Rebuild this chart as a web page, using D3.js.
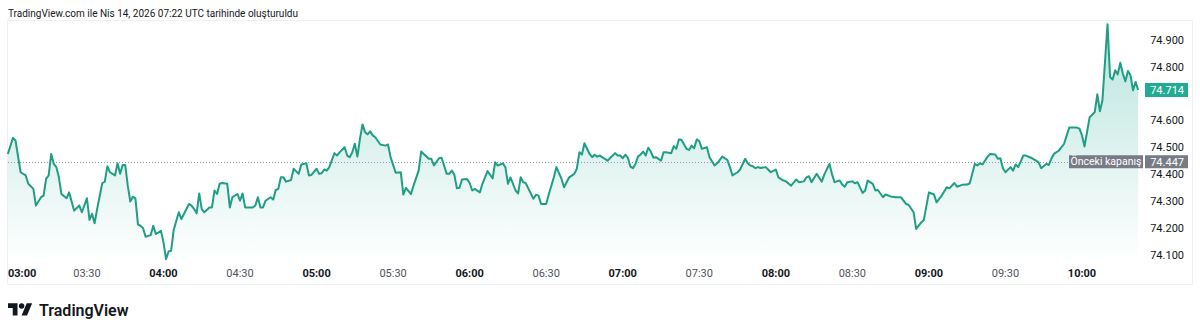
<!DOCTYPE html>
<html>
<head>
<meta charset="utf-8">
<script src="https://cdn.jsdelivr.net/npm/d3@7"></script>
<style>
  html, body { margin: 0; padding: 0; background: #fff; }
  svg { display: block; font-family: Roboto, "Noto Sans", sans-serif; }
</style>
</head>
<body>
<div id="chart"></div>
<script>
// ---------- Data (1-min closes, minutes after 03:00 local) ----------
const sessionStart = "2026-04-14T03:00:00Z";
const minutes = [
  -1, 1, 2, 4, 6, 7, 9, 10, 12, 13, 14, 15, 16, 17, 18, 19, 20, 22, 23, 25,
  27, 28, 30, 31, 32, 33, 34, 36, 37, 38, 39, 41, 42, 43, 44, 45, 46, 47, 48, 49,
  50, 51, 52, 53, 55, 56, 57, 59, 60, 61, 62, 63, 64, 66, 67, 70, 71, 72, 73, 74,
  75, 76, 78, 79, 80, 81, 82, 83, 85, 86, 87, 89, 90, 91, 92, 95, 96, 97, 98, 99,
  100, 102, 103, 104, 105, 106, 107, 108, 110, 111, 113, 114, 116, 117, 118, 120, 121, 122, 123, 124,
  125, 127, 128, 129, 131, 132, 133, 134, 135, 136, 137, 138, 139, 140, 141, 142, 143, 145, 147, 148,
  149, 151, 153, 154, 155, 157, 158, 160, 161, 162, 164, 165, 166, 168, 169, 171, 172, 173, 174, 175,
  176, 177, 179, 180, 181, 182, 184, 185, 187, 189, 190, 191, 193, 194, 195, 196, 198, 199, 200, 201,
  202, 205, 206, 207, 208, 210, 211, 213, 214, 216, 217, 219, 221, 222, 223, 224, 225, 227, 228, 229,
  230, 231, 233, 234, 235, 237, 238, 239, 240, 241, 242, 243, 244, 245, 246, 247, 248, 249, 250, 251,
  252, 253, 255, 256, 257, 259, 260, 261, 262, 263, 265, 266, 267, 268, 269, 270, 271, 273, 274, 276,
  277, 279, 281, 282, 283, 285, 286, 288, 289, 290, 291, 292, 293, 294, 296, 297, 298, 300, 301, 303,
  304, 306, 308, 309, 311, 312, 313, 314, 316, 318, 319, 321, 322, 323, 325, 326, 327, 328, 330, 331,
  332, 334, 335, 336, 338, 339, 340, 342, 343, 345, 347, 349, 351, 352, 354, 355, 357, 358, 360, 361,
  362, 363, 365, 367, 368, 370, 371, 373, 375, 376, 378, 379, 380, 381, 383, 384, 386, 387, 388, 389,
  390, 392, 393, 394, 395, 397, 398, 400, 402, 403, 404, 406, 407, 408, 409, 411, 413, 414, 415, 418,
  419, 420, 421, 423, 424, 425, 426, 427, 428, 430, 431, 432, 433, 434, 435, 436, 437, 438, 439, 440,
  441, 442
];
const prices = [
  74.476, 74.536, 74.526, 74.408, 74.396, 74.365, 74.346, 74.284, 74.315, 74.321, 74.383, 74.396, 74.476, 74.439, 74.427, 74.389, 74.327, 74.311, 74.333, 74.265,
  74.284, 74.259, 74.311, 74.231, 74.253, 74.218, 74.271, 74.367, 74.373, 74.430, 74.408, 74.396, 74.441, 74.402, 74.435, 74.435, 74.358, 74.299, 74.317, 74.311,
  74.213, 74.209, 74.200, 74.168, 74.174, 74.209, 74.178, 74.190, 74.147, 74.085, 74.113, 74.116, 74.193, 74.259, 74.234, 74.290, 74.284, 74.271, 74.255, 74.329,
  74.271, 74.259, 74.277, 74.277, 74.340, 74.327, 74.365, 74.368, 74.365, 74.277, 74.315, 74.327, 74.302, 74.329, 74.277, 74.277, 74.284, 74.315, 74.277, 74.277,
  74.302, 74.315, 74.306, 74.342, 74.346, 74.389, 74.389, 74.373, 74.379, 74.421, 74.402, 74.437, 74.441, 74.396, 74.398, 74.421, 74.402, 74.404, 74.418, 74.414,
  74.427, 74.479, 74.470, 74.482, 74.501, 74.470, 74.464, 74.482, 74.514, 74.466, 74.532, 74.586, 74.557, 74.549, 74.560, 74.545, 74.538, 74.511, 74.507, 74.511,
  74.464, 74.406, 74.408, 74.325, 74.350, 74.327, 74.358, 74.414, 74.485, 74.476, 74.458, 74.458, 74.433, 74.460, 74.462, 74.402, 74.402, 74.414, 74.399, 74.348,
  74.350, 74.381, 74.383, 74.368, 74.340, 74.346, 74.333, 74.365, 74.412, 74.385, 74.445, 74.433, 74.441, 74.427, 74.365, 74.389, 74.340, 74.329, 74.389, 74.371,
  74.367, 74.309, 74.324, 74.321, 74.290, 74.290, 74.325, 74.389, 74.427, 74.383, 74.352, 74.389, 74.402, 74.421, 74.482, 74.474, 74.516, 74.476, 74.464, 74.473,
  74.466, 74.470, 74.458, 74.451, 74.460, 74.479, 74.470, 74.470, 74.460, 74.473, 74.462, 74.429, 74.423, 74.439, 74.466, 74.474, 74.485, 74.470, 74.499, 74.485,
  74.462, 74.464, 74.451, 74.482, 74.482, 74.479, 74.505, 74.495, 74.530, 74.529, 74.495, 74.491, 74.507, 74.497, 74.530, 74.524, 74.495, 74.501, 74.464, 74.433,
  74.441, 74.466, 74.454, 74.427, 74.396, 74.408, 74.418, 74.458, 74.441, 74.433, 74.430, 74.423, 74.427, 74.424, 74.427, 74.418, 74.408, 74.418, 74.389, 74.377,
  74.374, 74.358, 74.381, 74.371, 74.374, 74.389, 74.393, 74.371, 74.402, 74.373, 74.399, 74.439, 74.402, 74.371, 74.377, 74.362, 74.354, 74.371, 74.374, 74.367,
  74.371, 74.331, 74.340, 74.377, 74.365, 74.340, 74.342, 74.315, 74.325, 74.318, 74.315, 74.315, 74.290, 74.287, 74.259, 74.197, 74.221, 74.230, 74.333, 74.329,
  74.325, 74.296, 74.321, 74.352, 74.348, 74.368, 74.354, 74.361, 74.362, 74.367, 74.439, 74.433, 74.441, 74.437, 74.466, 74.476, 74.474, 74.458, 74.460, 74.423,
  74.408, 74.427, 74.414, 74.437, 74.427, 74.470, 74.470, 74.462, 74.451, 74.445, 74.423, 74.439, 74.435, 74.458, 74.476, 74.489, 74.514, 74.545, 74.574, 74.574,
  74.570, 74.545, 74.504, 74.613, 74.622, 74.632, 74.698, 74.635, 74.675, 74.959, 74.762, 74.753, 74.787, 74.772, 74.815, 74.775, 74.746, 74.785, 74.769, 74.713,
  74.744, 74.714
];
const previousClose = 74.447;
const priceTicks = [74.1, 74.2, 74.3, 74.4, 74.5, 74.6, 74.7, 74.8, 74.9];
const headerText = "TradingView.com ile Nis 14, 2026 07:22 UTC tarihinde oluşturuldu";
const prevCloseLabel = "Önceki kapanış";
const brandText = "TradingView";

// ---------- Layout ----------
const W = 1200, H = 335;
const pane = { left: 7.5, top: 20.5, right: 1192.5, bottom: 284.5 };
const lineColor = "#1f9e85";
const upColor = "#22ab94";
const textColor = "#131722";

const base = new Date(sessionStart).getTime();
const data = minutes.map((m, i) => ({ t: new Date(base + m * 60000), p: prices[i] }));

const x = d3.scaleUtc()
  .domain([new Date(base), new Date(base + 420 * 60000)])
  .range([10.4, 1082]);

const y = d3.scaleLinear()
  .domain([74.1, 74.9])
  .range([255, 40]);

const svg = d3.select("#chart").append("svg")
  .attr("width", W)
  .attr("height", H);

// header
svg.append("text")
  .attr("x", 8)
  .attr("y", 17)
  .attr("fill", textColor)
  .style("font-size", "10px")
  .text(headerText);

// pane frame
svg.append("rect")
  .attr("x", pane.left).attr("y", pane.top)
  .attr("width", pane.right - pane.left)
  .attr("height", pane.bottom - pane.top)
  .attr("fill", "none")
  .attr("stroke", "#eef0f4");

// gradient for area
const defs = svg.append("defs");
const grad = defs.append("linearGradient")
  .attr("id", "areaGrad")
  .attr("gradientUnits", "userSpaceOnUse")
  .attr("x1", 0).attr("y1", 24).attr("x2", 0).attr("y2", 262);
grad.append("stop").attr("offset", "0%").attr("stop-color", upColor).attr("stop-opacity", 0.32);
grad.append("stop").attr("offset", "100%").attr("stop-color", upColor).attr("stop-opacity", 0.0);

const plotBottom = 262;

const area = d3.area()
  .x(d => x(d.t))
  .y0(plotBottom)
  .y1(d => y(d.p));

const line = d3.line()
  .x(d => x(d.t))
  .y(d => y(d.p));

svg.append("path")
  .datum(data)
  .attr("d", area)
  .attr("fill", "url(#areaGrad)");

// previous close dotted line
const yPrev = Math.round(y(previousClose)) + 0.5;
svg.append("line")
  .attr("x1", 8).attr("x2", 1068)
  .attr("y1", yPrev).attr("y2", yPrev)
  .attr("stroke", "#9598a1")
  .attr("stroke-width", 1)
  .attr("stroke-dasharray", "1,2");

svg.append("path")
  .datum(data)
  .attr("d", line)
  .attr("fill", "none")
  .attr("stroke", lineColor)
  .attr("stroke-width", 2)
  .attr("stroke-linejoin", "round");

// ---------- Price axis (right) ----------
const lastPrice = prices[prices.length - 1];
const labelYs = [y(lastPrice), y(previousClose)];
const visibleTicks = priceTicks.filter(v => labelYs.every(ly => Math.abs(y(v) - ly) > 12));

svg.append("g")
  .selectAll("text")
  .data(visibleTicks)
  .join("text")
  .attr("x", 1184)
  .attr("y", d => y(d))
  .attr("dy", "0.35em")
  .attr("text-anchor", "end")
  .attr("fill", textColor)
  .style("font-size", "11px")
  .text(d => d3.format(".3f")(d));

// last price label
const lastY = y(lastPrice);
svg.append("rect")
  .attr("x", 1145).attr("y", lastY - 7)
  .attr("width", 43).attr("height", 14)
  .attr("fill", upColor);
svg.append("text")
  .attr("x", 1184).attr("y", lastY)
  .attr("dy", "0.35em")
  .attr("text-anchor", "end")
  .attr("fill", "#fff")
  .style("font-size", "11px")
  .text(d3.format(".3f")(lastPrice));

// previous close labels
const pcY = y(previousClose);
svg.append("rect")
  .attr("x", 1069).attr("y", pcY - 6.5)
  .attr("width", 74).attr("height", 13)
  .attr("fill", "#787b86");
svg.append("text")
  .attr("x", 1106).attr("y", pcY)
  .attr("dy", "0.35em")
  .attr("text-anchor", "middle")
  .attr("fill", "#fff")
  .style("font-size", "10.5px")
  .text(prevCloseLabel);
svg.append("rect")
  .attr("x", 1145).attr("y", pcY - 6.5)
  .attr("width", 43).attr("height", 13)
  .attr("fill", "#787b86");
svg.append("text")
  .attr("x", 1184).attr("y", pcY)
  .attr("dy", "0.35em")
  .attr("text-anchor", "end")
  .attr("fill", "#fff")
  .style("font-size", "11px")
  .text(d3.format(".3f")(previousClose));

// ---------- Time axis ----------
const timeTicks = x.ticks(d3.utcMinute.every(30));
const fmt = d3.utcFormat("%H:%M");

svg.append("g")
  .selectAll("text")
  .data(timeTicks)
  .join("text")
  .attr("x", (d, i) => i === 0 ? 8 : x(d))
  .attr("y", 273)
  .attr("dy", "0.35em")
  .attr("text-anchor", (d, i) => i === 0 ? "start" : "middle")
  .attr("fill", d => d.getUTCMinutes() === 0 ? textColor : "#50535e")
  .style("font-size", "11px")
  .style("font-weight", d => d.getUTCMinutes() === 0 ? "700" : "400")
  .text(d => fmt(d));

// ---------- Brand ----------
const logo = svg.append("g")
  .attr("transform", "translate(8,300.5) scale(0.68)")
  .attr("fill", textColor);
logo.append("path").attr("d", "M14 22H7V11H0V4h14v18zM28 22h-8l7.5-18h8L28 22z");
logo.append("circle").attr("cx", 20).attr("cy", 8).attr("r", 4);

svg.append("text")
  .attr("x", 39)
  .attr("y", 316)
  .attr("fill", textColor)
  .style("font-size", "16px")
  .style("font-weight", "600")
  .text(brandText);
</script>
</body>
</html>
